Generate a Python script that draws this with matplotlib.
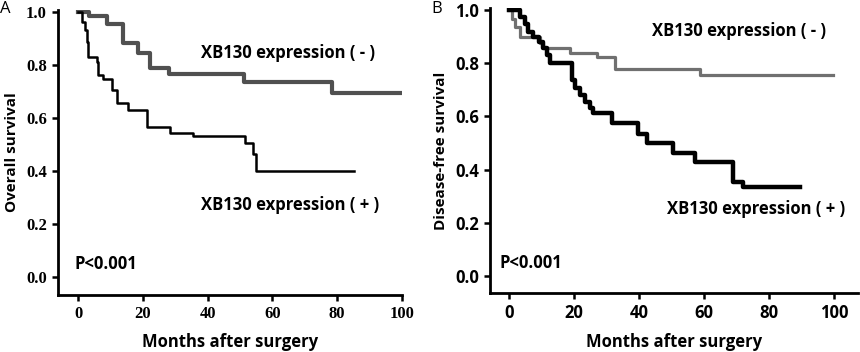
import matplotlib
matplotlib.use("Agg")
from matplotlib import pyplot as plt

# Panel A - overall survival
os_neg_months = [0, 3.5, 8.8, 14.0, 18.6, 22.2, 28.1, 51.3, 78.5, 100]
os_neg_surv = [1.0, 0.986, 0.955, 0.883, 0.846, 0.789, 0.766, 0.737, 0.696, 0.696]

os_pos_months = [0, 1.1, 2.2, 2.7, 3.2, 5.8, 6.3, 7.8, 10.4, 11.9, 15.5, 21.2,
                 28.4, 35.6, 51.5, 54.1, 54.9, 85.2]
os_pos_surv = [1.0, 0.963, 0.932, 0.888, 0.829, 0.812, 0.762, 0.746, 0.706, 0.658,
               0.630, 0.567, 0.542, 0.532, 0.505, 0.464, 0.401, 0.401]

# Panel B - disease-free survival
dfs_neg_months = [0, 0.8, 1.8, 3.4, 9.5, 10.6, 18.8, 27.0, 32.6, 58.7, 99.7]
dfs_neg_surv = [1.0, 0.968, 0.937, 0.900, 0.875, 0.858, 0.840, 0.822, 0.777, 0.756, 0.756]

dfs_pos_months = [0, 3.4, 4.9, 6.0, 7.5, 9.1, 10.6, 11.7, 12.7, 19.3, 20.3, 21.8,
                  23.4, 24.9, 25.9, 31.6, 39.8, 42.3, 50.5, 57.2, 69.0, 72.0, 89.5]
dfs_pos_surv = [1.0, 0.975, 0.947, 0.916, 0.897, 0.878, 0.856, 0.831, 0.800, 0.737,
                0.706, 0.680, 0.655, 0.630, 0.612, 0.576, 0.534, 0.501, 0.461, 0.430,
                0.355, 0.334, 0.334]

x_ticks = [0, 20, 40, 60, 80, 100]
y_ticks = [0.0, 0.2, 0.4, 0.6, 0.8, 1.0]

SANS = "Open Sans"

fig = plt.figure(figsize=(8.6, 3.52), dpi=100)
ax_a = fig.add_axes([0.0674, 0.162, 0.400, 0.810])
ax_b = fig.add_axes([0.5698, 0.1676, 0.428, 0.810])


def style_axes(ax, xlim, ylim, tick_family):
    ax.set_xlim(*xlim)
    ax.set_ylim(*ylim)
    for side in ("top", "right"):
        ax.spines[side].set_visible(False)
    for side in ("left", "bottom"):
        ax.spines[side].set_linewidth(2)
    ax.set_xticks(x_ticks)
    ax.set_yticks(y_ticks)
    ax.set_yticklabels(["%.1f" % v for v in y_ticks])
    ax.tick_params(width=1.8, length=4, direction="out", pad=4)
    for lab in ax.get_xticklabels() + ax.get_yticklabels():
        lab.set_family(tick_family)
        lab.set_fontweight("bold")
        lab.set_fontsize(12)
    ax.set_xlabel("Months after surgery", family=SANS, fontweight="bold",
                  fontsize=12, labelpad=8)


# A
ax_a.plot(os_neg_months, os_neg_surv, drawstyle="steps-post", color="#505050", lw=3.0)
ax_a.plot(os_pos_months, os_pos_surv, drawstyle="steps-post", color="black", lw=1.8)
style_axes(ax_a, (-6.2, 100), (-0.068, 1.008), "Liberation Serif")
ax_a.set_ylabel("Overall survival", family=SANS, fontweight="bold", fontsize=11, labelpad=5)
ax_a.text(38, 0.845, "XB130 expression ( - )", family=SANS, fontweight="bold", fontsize=12,
          ha="left", va="center")
ax_a.text(38, 0.27, "XB130 expression ( + )", family=SANS, fontweight="bold", fontsize=12,
          ha="left", va="center")
ax_a.text(-1, 0.05, "P<0.001", family=SANS, fontweight="bold", fontsize=12,
          ha="left", va="center")

# B
ax_b.plot(dfs_neg_months, dfs_neg_surv, drawstyle="steps-post", color="#707070", lw=2.3)
ax_b.plot(dfs_pos_months, dfs_pos_surv, drawstyle="steps-post", color="black", lw=3.2)
style_axes(ax_b, (-5.8, 107.3), (-0.064, 1.008), SANS)
ax_b.set_ylabel("Disease-free survival", family=SANS, fontweight="bold", fontsize=11, labelpad=5)
ax_b.text(44, 0.92, "XB130 expression ( - )", family=SANS, fontweight="bold", fontsize=12,
          ha="left", va="center")
ax_b.text(48.5, 0.25, "XB130 expression ( + )", family=SANS, fontweight="bold", fontsize=12,
          ha="left", va="center")
ax_b.text(-3, 0.05, "P<0.001", family=SANS, fontweight="bold", fontsize=12,
          ha="left", va="center")

fig.text(0.0, 0.975, "A", family=SANS, fontsize=12, ha="left", va="center")
fig.text(0.502, 0.975, "B", family=SANS, fontsize=12, ha="left", va="center")

fig.savefig("out.png", dpi=100)
